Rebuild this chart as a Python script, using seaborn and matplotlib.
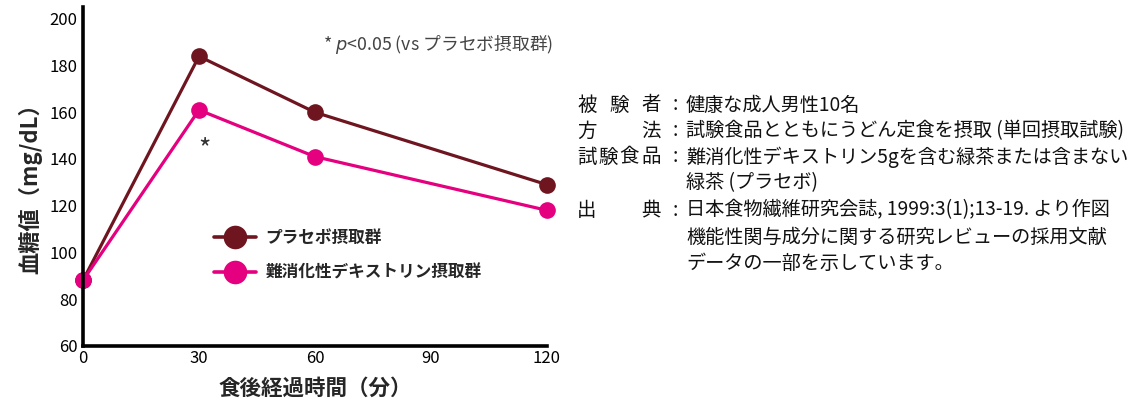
import matplotlib
matplotlib.use("Agg")
import matplotlib.pyplot as plt
import seaborn as sns
import pandas as pd

# data
minutes = [0, 30, 60, 120]
placebo = [88, 184, 160, 129]
dextrin = [88, 161, 141, 118]
group_names = ["プラセボ摂取群", "難消化性デキストリン摂取群"]
group_colors = ["#6E1520", "#E4007F"]
y_ticks = [60, 80, 100, 120, 140, 160, 180, 200]
x_ticks = [0, 30, 60, 90, 120]

info_rows = [
    ("被験者", "健康な成人男性10名"),
    ("方法", "試験食品とともにうどん定食を摂取 (単回摂取試験)"),
    ("試験食品", "難消化性デキストリン5gを含む緑茶または含まない"),
    ("", "緑茶 (プラセボ)"),
    ("出典", "日本食物繊維研究会誌, 1999:3(1);13-19. より作図"),
    ("", "機能性関与成分に関する研究レビューの採用文献"),
    ("", "データの一部を示しています。"),
]

df = pd.DataFrame({
    "time": minutes * 2,
    "value": placebo + dextrin,
    "group": [group_names[0]] * len(minutes) + [group_names[1]] * len(minutes),
})

sns.set_style("white")
plt.rcParams["font.family"] = ["Noto Sans CJK JP", "DejaVu Sans"]

fig = plt.figure(figsize=(11.4, 4.03), dpi=100)
ax = fig.add_axes([83 / 1140, 1 - 345.7 / 403, 464 / 1140, 338.4 / 403])

sns.lineplot(data=df, x="time", y="value", hue="group", hue_order=group_names,
             palette=group_colors, marker="o", markersize=12, markeredgewidth=0,
             linewidth=2.3, ax=ax, clip_on=False, legend=True)

ax.set_xlim(0, 120)
ax.set_ylim(60, 205)
ax.set_xticks(x_ticks)
ax.set_yticks(y_ticks)
ax.tick_params(direction="in", length=12, width=2.5, color="black",
               labelsize=12, labelcolor="black")
ax.tick_params(axis="y", pad=4)
ax.tick_params(axis="x", pad=3)
for side in ["top", "right"]:
    ax.spines[side].set_visible(False)
for side in ["left", "bottom"]:
    ax.spines[side].set_linewidth(2.6)
    ax.spines[side].set_color("black")

ax.set_xlabel("食後経過時間（分）", fontsize=15.5, fontweight="bold", va="center")
ax.set_ylabel("血糖値（mg/dL）", fontsize=16, fontweight="bold", va="center")
ax.xaxis.set_label_coords(0.5, (345.7 - 388) / 338.4)
ax.yaxis.set_label_coords((30 - 83) / 464, 0.48)

# legend
handles, labels = ax.get_legend_handles_labels()
for h in handles:
    h.set_markersize(17)
    h.set_linewidth(2.6)
ax.legend(handles, labels, loc="center left", bbox_to_anchor=(0.282, 0.268),
          frameon=False, prop={"weight": "bold", "size": 12},
          handlelength=2.5, handletextpad=0.6, labelspacing=1.0,
          borderpad=0, borderaxespad=0)

# significance notes
ax.text(31.5, 144, "*", fontsize=19, color="#333333", ha="center", va="center")
ax.text(121.5, 189, "* $p$<0.05 (vs プラセボ摂取群)", fontsize=12.8, color="#444444",
        ha="right", va="center")

# information block on the right
line_y = [105, 131, 157, 183, 210, 237, 263]
label_x0, label_x1 = 577, 641
for (label, body), ypx in zip(info_rows, line_y):
    yf = 1 - ypx / 403
    n = len(label)
    if n == 1:
        xs = [label_x0]
    elif n > 1:
        xs = [label_x0 + i * (label_x1 - label_x0) / (n - 1) for i in range(n)]
    else:
        xs = []
    for ch, xp in zip(label, xs):
        fig.text(xp / 1140, yf, ch, fontsize=14, ha="left", va="center", color="#111111")
    if label:
        fig.text(675 / 1140, yf, ":", fontsize=14, ha="center", va="center", color="#111111")
    fig.text(686 / 1140, yf, body, fontsize=13.8, ha="left", va="center", color="#111111")

fig.savefig("out.png", dpi=100)
